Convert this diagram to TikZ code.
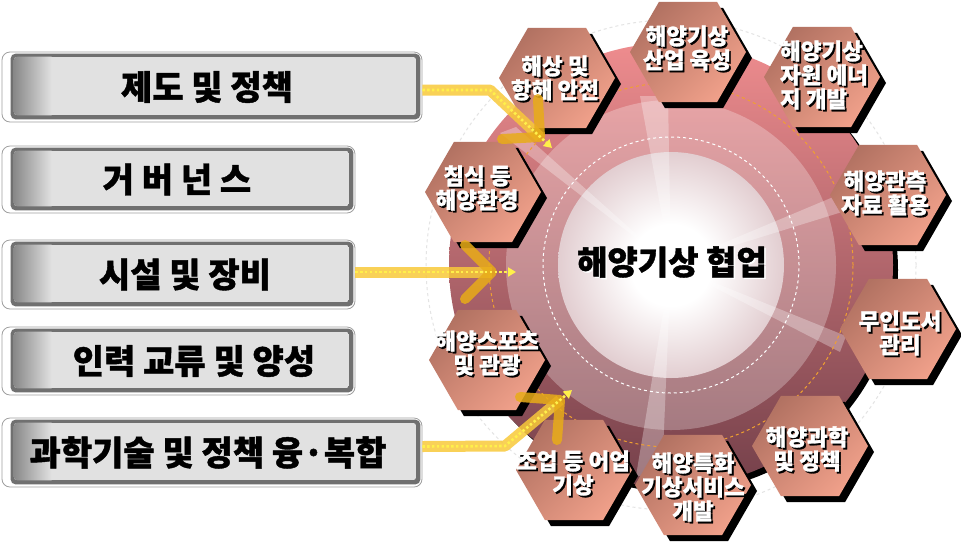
\documentclass[tikz,border=0pt]{standalone}
\usepackage{fontspec}
\newfontfamily\kr{Noto Sans CJK KR}[BoldFeatures={FakeBold=1.2}]
\usetikzlibrary{shapes.geometric,shadows,arrows.meta}
\definecolor{gearTop}{HTML}{EE8C8E}
\definecolor{gearMid}{HTML}{D27478}
\definecolor{gearBot}{HTML}{74404A}
\definecolor{glowc}{HTML}{B07880}
\definecolor{hexdark}{HTML}{B27262}
\definecolor{hexlight}{HTML}{F0A08A}
\definecolor{boxframe}{HTML}{707070}
\definecolor{boxleft}{HTML}{888888}
\definecolor{boxfill}{HTML}{E1E1E1}
\definecolor{bandc}{HTML}{F8C93A}
\definecolor{chevc}{HTML}{E8AC18}
\definecolor{dotc}{HTML}{FFF04A}
\definecolor{orangedash}{HTML}{F0A030}
\definecolor{faint}{HTML}{E4E4E4}
\pgfdeclareradialshading{glowshade}{\pgfpoint{0bp}{0bp}}{color(0bp)=(white); color(9bp)=(white); color(33bp)=(white!45!glowc); color(50bp)=(glowc)}
\tikzset{
  hexn/.style={regular polygon, regular polygon sides=6, minimum size=116pt, inner sep=0pt,
    top color=hexdark, bottom color=hexlight, shading angle=45,
    drop shadow={shadow xshift=6pt, shadow yshift=-6pt, opacity=1, fill=black}},
  hextxt/.style={font=\kr\bfseries\fontsize{22.5}{24}\selectfont, text=white, align=center, inner sep=0pt},
  outerbox/.style={draw=gray!75, line width=0.8pt, fill=white, rounded corners=8pt, inner sep=0pt},
  boxtxt/.style={font=\kr\bfseries\fontsize{34}{38}\selectfont, text=black, inner sep=0pt},
  band/.style={draw=bandc, line width=11pt, opacity=0.85, line join=round},
  chev/.style={draw=chevc, line width=10pt, opacity=0.85, line join=round, line cap=round},
  dotline/.style={draw=dotc, line width=2.6pt, dash pattern=on 2.4pt off 2.4pt, line join=round,
    -{Triangle[width=9pt,length=8pt]}},
}
\newcommand\lbox[7]{%
  \node[outerbox, minimum width=#4pt, minimum height=#5pt] (#1) at (#2,#3) {};
  \fill[boxframe, rounded corners=5pt] ([shift={(9,2)}]#1.north west) rectangle ([shift={(-2,-3)}]#1.south east);
  \begin{scope}
    \clip[rounded corners=4pt] ([shift={(12,5)}]#1.north west) rectangle ([shift={(-6,-7)}]#1.south east);
    \fill[boxfill] ([shift={(12,5)}]#1.north west) rectangle ([shift={(-6,-7)}]#1.south east);
    \shade[left color=boxleft, right color=boxfill] ([shift={(12,5)}]#1.north west) rectangle ([shift={(50,-7)}]#1.south west);
  \end{scope}
  \node[boxtxt] (#1t) at (#6,#3) {#7};
}
\newcommand\hexlab[3]{%
  \node[hextxt, text=black] (#1s) at ([shift={(1.8,1.8)}]#2) {#3};
  \node[hextxt] (#1) at (#2) {#3};
}
\begin{document}
\begin{tikzpicture}[x=1pt,y=-1pt]
\useasboundingbox (0,0) rectangle (961,542);
\fill[white] (0,0) rectangle (961,542);
\coordinate (g) at (671,265);
% faint outer circle
\draw[faint, dashed, line width=1pt] (g) circle (245pt);
% gear body
\fill[black] ([shift={(5,5)}]g) circle (222pt);
\shade[top color=gearTop, middle color=gearMid, bottom color=gearBot] (g) circle (222pt);
% light ring and glow
\fill[white, opacity=0.27] (g) circle (165pt);
\shade[shading=glowshade] (g) circle (113pt);
% rays
\begin{scope}[white, opacity=0.3]
  \fill (g) -- (500,133) -- (516,127) -- cycle;
  \fill (g) -- (640,96) -- (668,96) -- cycle;
  \fill (g) -- (838,195) -- (842,212) -- cycle;
  \fill (g) -- (846,336) -- (840,352) -- cycle;
  \fill (g) -- (636,476) -- (662,476) -- cycle;
\end{scope}
\draw[white, dashed, line width=1pt] (g) circle (128pt);
\draw[orangedash, dashed, line width=1pt] (g) circle (182pt);
% hexagons
\node[hexn] (h1) at (557,78) {};
\node[hexn] (h2) at (688,52) {};
\node[hexn] (h3) at (822,77) {};
\node[hexn] (h4) at (888,195) {};
\node[hexn] (h5) at (898,329) {};
\node[hexn] (h6) at (810,446) {};
\node[hexn] (h7) at (693,485) {};
\node[hexn] (h8) at (574,470) {};
\node[hexn] (h9) at (487,360) {};
\node[hexn] (h10) at (483,192) {};
\hexlab{t1}{555,78}{해상 및\\항해 안전}
\hexlab{t2}{687,48}{해양기상\\산업 육성}
\node[hextxt, text=black, align=left] (t3s) at (825.8,76.8) {해양기상\\자원 에너\\지 개발};
\node[hextxt, align=left] (t3) at (824,75) {해양기상\\자원 에너\\지 개발};
\hexlab{t4}{885,193}{해양관측\\자료 활용}
\hexlab{t5}{900,333}{무인도서\\관리}
\hexlab{t6}{807,449}{해양과학\\및 정책}
\hexlab{t7}{693,487}{해양특화\\기상서비스\\개발}
\hexlab{t8}{573,473}{조업 등 어업\\기상}
\hexlab{t9}{487,353}{해양스포츠\\및 관광}
\hexlab{t10}{477,188}{침식 등\\해양환경}
% centre text
\node[font=\kr\bfseries\fontsize{33}{36}\selectfont, text=white] (cts) at (673.5,263.5) {해양기상 협업};
\node[font=\kr\bfseries\fontsize{33}{36}\selectfont, text=black] (ct) at (672,262) {해양기상 협업};
% left boxes
\lbox{b1}{212}{87}{420}{70}{207}{제도 및 정책}
\lbox{b2}{178.5}{179.5}{353}{67}{177}{거 버 넌 스}
\lbox{b3}{178.5}{274.5}{353}{69}{185}{시설 및 장비}
\lbox{b4}{178.5}{361}{353}{68}{194}{인력 교류 및 양성}
\lbox{b5}{212}{452.5}{420}{69}{208}{과학기술 및 정책 융·복합}
% arrows
\coordinate (a1k) at (490,90);
\coordinate (a1v) at (540,137);
\coordinate (a1t) at (552,148);
\coordinate (a1l) at (502,139);
\coordinate (a1r) at (538,99);
\draw[band] ([yshift=-3pt]b1.east) -- (a1k) -- (a1v);
\draw[chev] (a1l) -- (a1v) -- (a1r);
\draw[dotline] ([yshift=-3pt]b1.east) -- (a1k) -- (a1t);
\coordinate (a3v) at (492,272);
\coordinate (a3t) at (516,272);
\coordinate (a3l) at (465,245);
\coordinate (a3r) at (465,299);
\draw[band] ([yshift=2.5pt]b3.east) -- (a3v);
\draw[chev] (a3l) -- (a3v) -- (a3r);
\draw[dotline] ([yshift=2.5pt]b3.east) -- (a3t);
\coordinate (a5k) at (505,446);
\coordinate (a5v) at (560,400);
\coordinate (a5t) at (572,390);
\coordinate (a5l) at (520,397);
\coordinate (a5r) at (557,440);
\draw[band] ([yshift=6pt]b5.east) -- (a5k) -- (a5v);
\draw[chev] (a5l) -- (a5v) -- (a5r);
\draw[dotline] ([yshift=6pt]b5.east) -- (a5k) -- (a5t);
\end{tikzpicture}
\end{document}
